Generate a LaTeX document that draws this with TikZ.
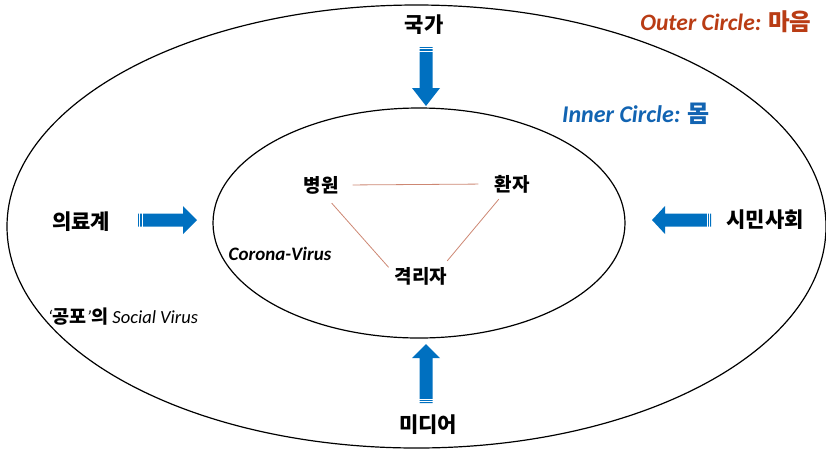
\documentclass[tikz,border=0pt]{standalone}
\usepackage{fontspec}
\setmainfont{Carlito}
\newfontfamily\kr{Noto Sans CJK KR}
\definecolor{arrowblue}{RGB}{0,112,192}
\definecolor{outerred}{RGB}{185,60,20}
\definecolor{innerblue}{RGB}{18,100,178}
\definecolor{triline}{RGB}{205,135,115}
\tikzset{
  ring/.style={draw=black, line width=1.2pt},
  biglabel/.style={font=\kr\bfseries\fontsize{21}{23}\selectfont, inner sep=2pt},
  trilabel/.style={font=\kr\bfseries\fontsize{19}{21}\selectfont, inner sep=6pt},
  tri/.style={draw=triline, line width=0.8pt},
  pics/blockarrow/.style args={#1/#2}{code={
    \fill[arrowblue] (0,-6.5) -- ({#1-#2},-6.5) -- ({#1-#2},-14) -- (#1,0)
      -- ({#1-#2},14) -- ({#1-#2},6.5) -- (0,6.5) -- cycle;
    \draw[white, line width=0.6pt] (1.6,-7) -- (1.6,7) (3.8,-7) -- (3.8,7);
  }}
}
\begin{document}
\begin{tikzpicture}[x=1pt,y=-1pt]
\useasboundingbox (0,0) rectangle (826,451);
% circles
\draw[ring] (416.5,226.5) ellipse [x radius=409.5, y radius=221.5];
\draw[ring] (419,223) ellipse [x radius=206, y radius=115];
% outer labels
\node[biglabel] (gukga) at (424,25) {국가};
\node[biglabel] (midieo) at (428,425) {미디어};
\node[biglabel] (uiryo) at (81,222) {의료계};
\node[biglabel] (simin) at (765,220) {시민사회};
% arrows
\pic[rotate=-90] at (426,47) {blockarrow=59/18};
\pic[rotate=90] at (426,403) {blockarrow=59/14};
\pic at (138,220) {blockarrow=59/14};
\pic[rotate=180] at (711,220) {blockarrow=59/13};
% titles
\node[font=\bfseries\itshape\fontsize{23.5}{25}\selectfont, text=outerred, inner sep=0pt] (outer) at (726,22)
  {Outer Circle: {\kr 마음}};
\node[font=\bfseries\itshape\fontsize{24}{26}\selectfont, text=innerblue, inner sep=0pt] (inner) at (636,114)
  {Inner Circle: {\kr 몸}};
% virus labels
\node[font=\bfseries\itshape\fontsize{19}{21}\selectfont, inner sep=0pt] (corona) at (280,254) {Corona-Virus};
\node[font=\itshape\fontsize{18.5}{20}\selectfont, inner sep=0pt] (social) at (123,317)
  {‘{\kr\bfseries 공포}’{\kr\bfseries 의} Social Virus};
% triangle
\node[trilabel] (byung) at (321,185) {병원};
\node[trilabel] (hwan) at (512,184) {환자};
\node[trilabel] (gyeok) at (421,276) {격리자};
\draw[tri, shorten <=8pt, shorten >=10pt] (byung.east) -- (hwan.west);
\draw[tri, shorten <=4pt] (byung.-62) -- (gyeok.165);
\draw[tri] (hwan.-131) -- (gyeok.30);
\end{tikzpicture}
\end{document}
